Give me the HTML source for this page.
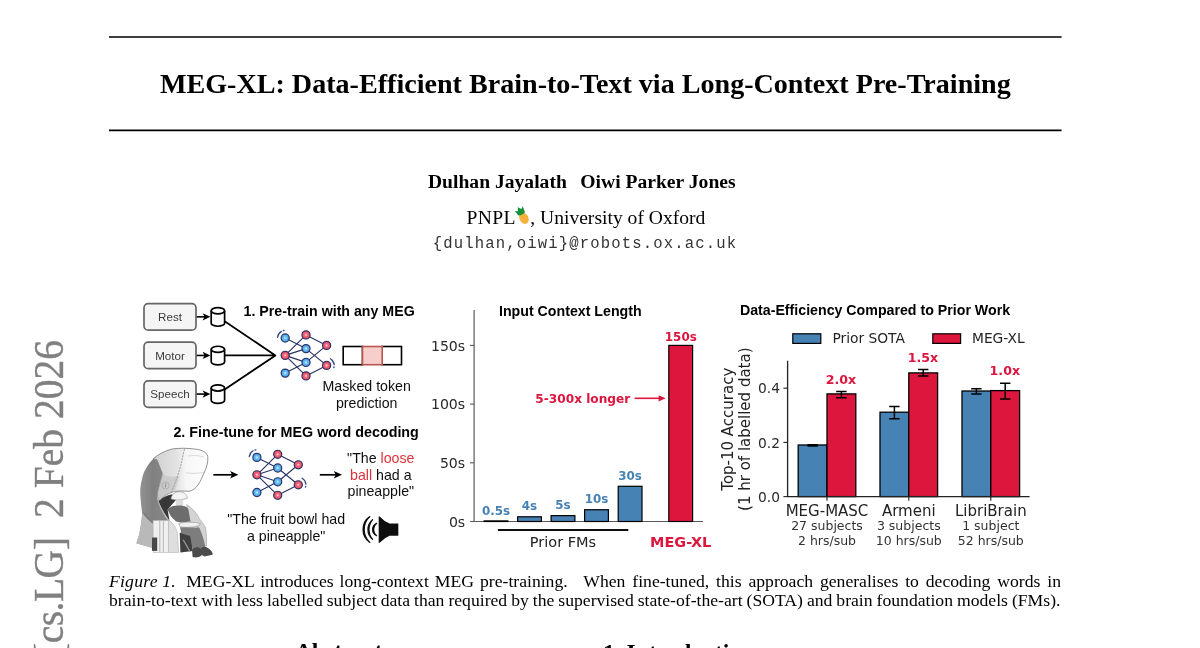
<!DOCTYPE html>
<html lang="en">
<head>
<meta charset="utf-8">
<title>MEG-XL: Data-Efficient Brain-to-Text via Long-Context Pre-Training</title>
<style>
html,body{margin:0;padding:0;background:#fff;}
body{width:1200px;height:648px;overflow:hidden;position:relative;font-family:"Liberation Serif",serif;color:#000;}
.abs{position:absolute;white-space:nowrap;}
#title{left:109.4px;width:952px;text-align:center;top:67.5px;font:bold 28.1px/32px "Liberation Serif",serif;}
#authors{left:105.8px;width:952px;text-align:center;top:169.7px;font:bold 19.6px/24px "Liberation Serif",serif;}
.affil{top:206.3px;font:19.6px/24px "Liberation Serif",serif;}
#email{left:109px;width:952px;text-align:center;top:233.5px;font:15.6px/20px "Liberation Mono",monospace;letter-spacing:1.14px;color:#333;}
.capl{font:17.65px/20px "Liberation Serif",serif;}
.capj{white-space:normal;text-align:justify;text-align-last:justify;}
.sec{font:bold 23.5px/28px "Liberation Serif",serif;}
#stamp{left:0;top:0;width:400px;text-align:right;font:39.55px/40px "Liberation Serif",serif;color:#808080;-webkit-text-stroke:0.35px #808080;transform-origin:0 0;}
#fig{position:absolute;left:0;top:0;}
#fig text{font-family:"Liberation Sans",sans-serif;}
#fig .dv{font-family:"DejaVu Sans",sans-serif;}
</style>
</head>
<body>
<div id="title" class="abs">MEG-XL: Data-Efficient Brain-to-Text via Long-Context Pre-Training</div>
<div id="authors" class="abs">Dulhan Jayalath<span style="display:inline-block;width:13.5px"></span>Oiwi Parker Jones</div>
<div class="abs affil" style="left:466.4px;letter-spacing:0.4px">PNPL</div>
<div class="abs affil" style="left:530.2px">, University of Oxford</div>
<div id="email" class="abs">{dulhan,oiwi}@robots.ox.ac.uk</div>

<!--FIG-->
<svg id="fig" width="1200" height="648" viewBox="0 0 1200 648">
<defs>
<radialGradient id="gb" cx="50%" cy="50%" r="55%"><stop offset="0" stop-color="#d9f0ff"/><stop offset="0.35" stop-color="#6bbdf5"/><stop offset="1" stop-color="#3f9fe8"/></radialGradient>
<radialGradient id="gr" cx="50%" cy="50%" r="55%"><stop offset="0" stop-color="#ffe0e4"/><stop offset="0.35" stop-color="#f4677a"/><stop offset="1" stop-color="#e8405a"/></radialGradient>
<filter id="soft" x="0" y="0" width="100%" height="100%" filterUnits="userSpaceOnUse"><feGaussianBlur stdDeviation="0.38"/></filter>
<filter id="bl" x="-10%" y="-10%" width="120%" height="120%"><feGaussianBlur stdDeviation="0.6"/></filter>
<linearGradient id="dome" x1="0" y1="0" x2="1" y2="0"><stop offset="0" stop-color="#cfcfcf"/><stop offset="0.45" stop-color="#e4e4e4"/><stop offset="0.6" stop-color="#f6f6f6"/><stop offset="1" stop-color="#fdfdfd"/></linearGradient>
<linearGradient id="back" x1="0" y1="0" x2="1" y2="0"><stop offset="0" stop-color="#969696"/><stop offset="0.5" stop-color="#808080"/><stop offset="1" stop-color="#898989"/></linearGradient>
</defs>
<path d="M109 37H1061.6M109 130.3H1061.6" stroke="#000" stroke-width="1.7" fill="none"/>
<g filter="url(#soft)">
<rect x="144" y="303.6" width="52" height="26.5" rx="4.2" fill="#f5f5f5" stroke="#666" stroke-width="1.7"/>
<text x="170" y="321.0" font-size="11.6" fill="#3a3a3a" text-anchor="middle">Rest</text>
<path d="M196.7 316.85H205" stroke="#000" stroke-width="1.6" fill="none"/>
<path d="M210.4 316.85L202.6 313.25L204.6 316.85L202.6 320.45000000000005Z" fill="#000"/>
<path d="M211.2 310.75000000000006A6.700000000000003 3.1 0 0 1 224.6 310.75000000000006V323.15A6.700000000000003 3.1 0 0 1 211.2 323.15Z" fill="#fff" stroke="#000" stroke-width="1.7"/>
<path d="M211.2 310.75000000000006A6.700000000000003 3.1 0 0 0 224.6 310.75000000000006" fill="none" stroke="#000" stroke-width="1.7"/>
<rect x="144" y="342.2" width="52" height="26.5" rx="4.2" fill="#f5f5f5" stroke="#666" stroke-width="1.7"/>
<text x="170" y="359.6" font-size="11.6" fill="#3a3a3a" text-anchor="middle">Motor</text>
<path d="M196.7 355.45H205" stroke="#000" stroke-width="1.6" fill="none"/>
<path d="M210.4 355.45L202.6 351.84999999999997L204.6 355.45L202.6 359.05Z" fill="#000"/>
<path d="M211.2 349.35A6.700000000000003 3.1 0 0 1 224.6 349.35V361.74999999999994A6.700000000000003 3.1 0 0 1 211.2 361.74999999999994Z" fill="#fff" stroke="#000" stroke-width="1.7"/>
<path d="M211.2 349.35A6.700000000000003 3.1 0 0 0 224.6 349.35" fill="none" stroke="#000" stroke-width="1.7"/>
<rect x="144" y="380.8" width="52" height="26.5" rx="4.2" fill="#f5f5f5" stroke="#666" stroke-width="1.7"/>
<text x="170" y="398.2" font-size="11.6" fill="#3a3a3a" text-anchor="middle">Speech</text>
<path d="M196.7 394.05H205" stroke="#000" stroke-width="1.6" fill="none"/>
<path d="M210.4 394.05L202.6 390.45L204.6 394.05L202.6 397.65000000000003Z" fill="#000"/>
<path d="M211.2 387.95000000000005A6.700000000000003 3.1 0 0 1 224.6 387.95000000000005V400.34999999999997A6.700000000000003 3.1 0 0 1 211.2 400.34999999999997Z" fill="#fff" stroke="#000" stroke-width="1.7"/>
<path d="M211.2 387.95000000000005A6.700000000000003 3.1 0 0 0 224.6 387.95000000000005" fill="none" stroke="#000" stroke-width="1.7"/>
<path d="M225 321.6L275.4 355.4M225 355.4H275.4M225 389.2L275.4 355.4" stroke="#000" stroke-width="1.8" fill="none" stroke-linecap="round"/>
<path d="M285.2 338.0L306.0 348.6M285.2 355.4L306.0 334.9M285.2 355.4L306.0 348.6M285.2 355.4L306.0 362.4M285.2 355.4L306.0 375.9M285.2 373.1L306.0 362.4M306.0 334.9L326.6 345.4M306.0 348.6L326.6 365.4M306.0 362.4L326.6 345.4M306.0 375.9L326.6 365.4" stroke="#2b3467" stroke-width="1.15" fill="none"/>
<circle cx="285.2" cy="338.0" r="4.05" fill="url(#gb)" stroke="#2b3467" stroke-width="1.2"/>
<circle cx="285.2" cy="355.4" r="4.05" fill="url(#gr)" stroke="#2b3467" stroke-width="1.2"/>
<circle cx="285.2" cy="373.1" r="4.05" fill="url(#gb)" stroke="#2b3467" stroke-width="1.2"/>
<circle cx="306.0" cy="334.9" r="4.05" fill="url(#gr)" stroke="#2b3467" stroke-width="1.2"/>
<circle cx="306.0" cy="348.6" r="4.05" fill="url(#gb)" stroke="#2b3467" stroke-width="1.2"/>
<circle cx="306.0" cy="362.4" r="4.05" fill="url(#gb)" stroke="#2b3467" stroke-width="1.2"/>
<circle cx="306.0" cy="375.9" r="4.05" fill="url(#gr)" stroke="#2b3467" stroke-width="1.2"/>
<circle cx="326.6" cy="345.4" r="4.05" fill="url(#gr)" stroke="#2b3467" stroke-width="1.2"/>
<circle cx="326.6" cy="365.4" r="4.05" fill="url(#gr)" stroke="#2b3467" stroke-width="1.2"/>
<path d="M277.6 337.3A7.6 7.6 0 0 1 281.4 331.4M283.4 330.6A7.6 7.6 0 0 1 284.1 330.5" stroke="#3a4684" stroke-width="1.3" fill="none" stroke-linecap="round"/>
<path d="M330.4 358.8A7.6 7.6 0 0 1 334.2 364.7M334.0 367.0A7.6 7.6 0 0 1 333.8 367.7" stroke="#3a4684" stroke-width="1.3" fill="none" stroke-linecap="round"/>
<path d="M256.9 457.4L277.7 468.0M256.9 474.8L277.7 454.3M256.9 474.8L277.7 468.0M256.9 474.8L277.7 481.8M256.9 474.8L277.7 495.3M256.9 492.5L277.7 481.8M277.7 454.3L298.3 464.8M277.7 468.0L298.3 484.8M277.7 481.8L298.3 464.8M277.7 495.3L298.3 484.8" stroke="#2b3467" stroke-width="1.15" fill="none"/>
<circle cx="256.9" cy="457.4" r="4.05" fill="url(#gb)" stroke="#2b3467" stroke-width="1.2"/>
<circle cx="256.9" cy="474.8" r="4.05" fill="url(#gr)" stroke="#2b3467" stroke-width="1.2"/>
<circle cx="256.9" cy="492.5" r="4.05" fill="url(#gb)" stroke="#2b3467" stroke-width="1.2"/>
<circle cx="277.7" cy="454.3" r="4.05" fill="url(#gr)" stroke="#2b3467" stroke-width="1.2"/>
<circle cx="277.7" cy="468.0" r="4.05" fill="url(#gb)" stroke="#2b3467" stroke-width="1.2"/>
<circle cx="277.7" cy="481.8" r="4.05" fill="url(#gb)" stroke="#2b3467" stroke-width="1.2"/>
<circle cx="277.7" cy="495.3" r="4.05" fill="url(#gr)" stroke="#2b3467" stroke-width="1.2"/>
<circle cx="298.3" cy="464.8" r="4.05" fill="url(#gr)" stroke="#2b3467" stroke-width="1.2"/>
<circle cx="298.3" cy="484.8" r="4.05" fill="url(#gr)" stroke="#2b3467" stroke-width="1.2"/>
<path d="M249.3 456.7A7.6 7.6 0 0 1 253.1 450.8M255.1 450.0A7.6 7.6 0 0 1 255.8 449.9" stroke="#3a4684" stroke-width="1.3" fill="none" stroke-linecap="round"/>
<path d="M302.1 478.2A7.6 7.6 0 0 1 305.9 484.1M305.7 486.4A7.6 7.6 0 0 1 305.5 487.1" stroke="#3a4684" stroke-width="1.3" fill="none" stroke-linecap="round"/>
<rect x="343.2" y="346.5" width="19.3" height="18.2" fill="#fff" stroke="#000" stroke-width="1.6"/>
<rect x="382.2" y="346.5" width="19.3" height="18.2" fill="#fff" stroke="#000" stroke-width="1.6"/>
<rect x="362.5" y="346.5" width="19.7" height="18.2" fill="#f8cecc" stroke="#b85450" stroke-width="1.6"/>
<text x="243.6" y="316" font-size="14.2" font-weight="bold">1. Pre-train with any MEG</text>
<text x="366.7" y="390.8" font-size="14.2" text-anchor="middle" fill="#111">Masked token</text>
<text x="366.7" y="407.8" font-size="14.2" text-anchor="middle" fill="#111">prediction</text>
<text x="173.4" y="436.5" font-size="14.3" font-weight="bold">2. Fine-tune for MEG word decoding</text>
<text x="380.8" y="462.6" font-size="14.2" text-anchor="middle" fill="#111">"The <tspan fill="#e0323c">loose</tspan></text>
<text x="380.8" y="479.7" font-size="14.2" text-anchor="middle" fill="#111"><tspan fill="#e0323c">ball</tspan> had a</text>
<text x="380.8" y="495.8" font-size="14.2" text-anchor="middle" fill="#111">pineapple"</text>
<text x="286.2" y="523.8" font-size="14.2" text-anchor="middle" fill="#111">"The fruit bowl had</text>
<text x="286.2" y="540.9" font-size="14.2" text-anchor="middle" fill="#111">a pineapple"</text>
<path d="M213.3 474.8H234.3" stroke="#000" stroke-width="1.7" fill="none"/>
<path d="M238.3 474.8L230.10000000000002 471.1L232.10000000000002 474.8L230.10000000000002 478.5Z" fill="#000"/>
<path d="M319.8 474.8H338" stroke="#000" stroke-width="1.7" fill="none"/>
<path d="M342 474.8L333.8 471.1L335.8 474.8L333.8 478.5Z" fill="#000"/>
<path d="M378.7 516.6Q378.7 515.8 379.6 516.4Q384.5 521.6 389.6 523.5H398.3V535.7H389.6Q384.5 537.6 379.6 542.8Q378.7 543.4 378.7 542.6Z" fill="#111"/>
<path d="M369.8 516.6A15.64 15.64 0 0 0 369.8 542.4A17.66 17.66 0 0 1 369.8 516.6Z" fill="#111" stroke="#111" stroke-width="1.2" stroke-linejoin="round"/>
<path d="M372.6 519.6A12.78 12.78 0 0 0 372.6 539.4A15.41 15.41 0 0 1 372.6 519.6Z" fill="#111" stroke="#111" stroke-width="1.2" stroke-linejoin="round"/>
<path d="M376.6 523.3A6.81 6.81 0 0 0 376.6 535.7A7.91 7.91 0 0 1 376.6 523.3Z" fill="#111" stroke="#111" stroke-width="1.2" stroke-linejoin="round"/>
<g filter="url(#bl)">
<path d="M153.1 458.9C148.5 463.5 144.5 470 143 475C141.3 481 140.2 487 140.2 492C140.4 500 141.6 508 142.1 513.1C142 518 141 526 139.3 534L136.4 543.2L152 547.8L153.2 520.7L169.3 520.7C166 516.5 161.5 510 157.8 500.4C157.3 497 157.4 495 157.8 493.1C158.5 489 159 486 159.6 483.9C160.5 480 161.6 477 162.4 473.7L156.9 459.8Z" fill="url(#back)"/>
<path d="M142.1 513.1C145 517 149 521 153.2 523.5L152 547.8L136.4 543.2L139.3 534C141 526 142 518 142.1 513.1Z" fill="#b9b9b9"/>
<path d="M143.5 512.5L152.6 523.4" stroke="#6a6a6a" stroke-width="0.8" fill="none"/>
<path d="M186.7 504.6C192 508 197 513 199.4 518.9C202 522 204.4 525 205.2 527C206.6 533 206.8 540 206.4 546L200.6 546.4L199.5 528.5L190 522Z" fill="#d4d4d4" stroke="#9c9c9c" stroke-width="0.6"/>
<path d="M158.2 500.6C162 497.6 167 495.4 172 494.2L176.4 499.4L172 504.6L167.6 509.7L169.6 521C166 516 161.5 509.5 158.2 500.6Z" fill="#383838"/>
<path d="M153.1 458.9C158 454.5 165 450.5 172.6 448.9C179 448 188 448 196 449.2C202 450 206.5 452 207.8 456.5C208.3 462 206.5 468 204 473C202 478 200 482 198 485C195.5 488.5 192.5 490.8 189 491.3C184 491 179 490.8 174.4 491.5C168 493 163 496.5 159.6 500.5C157.4 497.5 157.2 494.5 157.8 491.3C159.5 485 161.5 479 162.4 473.7L156.9 459.8Z" fill="url(#dome)" stroke="#777" stroke-width="0.8"/>
<path d="M162.4 473.7C161.5 479 159.5 485 157.8 491.3C157.2 494.5 157.4 497.5 159.6 500.5C163 496.5 168 493 174.4 491.5C176 487 178 482 179.5 476C172 477.5 166 476.5 162.4 473.7Z" fill="#bdbdbd" opacity="0.55"/>
<path d="M184.5 449C182.5 456 182 462 180 468C178 476 174.5 484 171.5 492" stroke="#a4a4a4" stroke-width="1" fill="none" stroke-dasharray="2.2 0.9"/>
<path d="M186 472.6C192 474 198 473.4 203.6 472.4M188 456C193 455 199 455.4 204 457" stroke="#cdcdcd" stroke-width="0.7" fill="none"/>
<circle cx="165.6" cy="485.6" r="3.5" fill="none" stroke="#a8a8a8" stroke-width="0.8"/>
<path d="M165.6 483.6V487.4" stroke="#888" stroke-width="0.9"/>
<path d="M157.8 500.4C161 509 165.5 516 169.3 520.7C173 523 176.4 527.5 177.4 533L178.6 552.5H168.4V520.7C164.5 516 160.5 509.5 157.8 500.4Z" fill="#dedede" stroke="#a9a9a9" stroke-width="0.5"/>
<rect x="153.2" y="520.7" width="15.2" height="31.8" fill="#efefef" stroke="#b5b5b5" stroke-width="0.6"/>
<path d="M159.8 521V552M163.4 521V552" stroke="#bcbcbc" stroke-width="1.1"/>
<rect x="152" y="537.5" width="5.2" height="13.4" fill="#474747"/>
<path d="M179.7 532.8H191.3L192.5 551L180.4 552.5Z" fill="#3f3f3f"/>
<path d="M183.2 539.7L190.2 552" stroke="#9a9a9a" stroke-width="1.3"/>
<path d="M171 499C171.2 494.6 175.4 491.7 179.4 491.7C183.6 491.7 187.2 494.4 187.3 498.2C182 500.2 176 500.4 171 499Z" fill="#f4f4f4" stroke="#8c8c8c" stroke-width="0.6"/>
<path d="M175.7 499.4C178 500 181 500 183.2 499.2V504.4C181 506.6 177.6 506.4 175.7 504.6Z" fill="#dcdcdc"/>
<path d="M167.6 509.7C169.5 506.6 174 505.2 179.4 505.4C184.4 505.6 187.2 506.6 188.4 509.4L190.4 521.6L181 522.6L176 521.4L171 516.6Z" fill="#6d6d6d"/>
<path d="M178.6 523.4C185 521.6 195 521.8 200.6 523.6C199.8 526.6 190 528.2 180 526.8Z" fill="#f0f0f0" stroke="#8e8e8e" stroke-width="0.6"/>
<path d="M180 527.2L199.2 527.4C202 533 204 540 205.4 547L198.4 549.6L192.4 549L190.2 536L181.4 533.4Z" fill="#7d7d7d"/>
<path d="M192 549.6C194.6 546.6 198.6 546.6 200.8 548.4C203 546 206 546.2 209 548.8C211.6 550.6 213 553 212.6 554.8L204.4 556.4L202 555C199 557.6 195.4 558 192.6 557Z" fill="#4c4c4c"/>
</g>
<path d="M474.1 310V521.5H703" stroke="#5a5a5a" stroke-width="1.2" fill="none"/>
<path d="M470 521.5H474.1" stroke="#5a5a5a" stroke-width="1.1"/>
<text class="dv" x="465.2" y="526.8" font-size="14.1" text-anchor="end" fill="#2a2a2a">0s</text>
<path d="M470 462.8H474.1" stroke="#5a5a5a" stroke-width="1.1"/>
<text class="dv" x="465.2" y="468.1" font-size="14.1" text-anchor="end" fill="#2a2a2a">50s</text>
<path d="M470 404.1H474.1" stroke="#5a5a5a" stroke-width="1.1"/>
<text class="dv" x="465.2" y="409.4" font-size="14.1" text-anchor="end" fill="#2a2a2a">100s</text>
<path d="M470 345.4H474.1" stroke="#5a5a5a" stroke-width="1.1"/>
<text class="dv" x="465.2" y="350.7" font-size="14.1" text-anchor="end" fill="#2a2a2a">150s</text>
<text x="570.3" y="316" font-size="14.2" font-weight="bold" text-anchor="middle">Input Context Length</text>
<rect x="484.1" y="520.91" width="23.8" height="0.59" fill="#4682b4" stroke="#000" stroke-width="1.2"/>
<text class="dv" x="496.0" y="514.5" font-size="11.9" font-weight="bold" text-anchor="middle" fill="#4682b4">0.5s</text>
<rect x="517.6" y="516.80" width="23.8" height="4.70" fill="#4682b4" stroke="#000" stroke-width="1.2"/>
<text class="dv" x="529.5" y="510.4" font-size="11.9" font-weight="bold" text-anchor="middle" fill="#4682b4">4s</text>
<rect x="551.1" y="515.63" width="23.8" height="5.87" fill="#4682b4" stroke="#000" stroke-width="1.2"/>
<text class="dv" x="563.0" y="509.2" font-size="11.9" font-weight="bold" text-anchor="middle" fill="#4682b4">5s</text>
<rect x="584.6" y="509.76" width="23.8" height="11.74" fill="#4682b4" stroke="#000" stroke-width="1.2"/>
<text class="dv" x="596.5" y="503.4" font-size="11.9" font-weight="bold" text-anchor="middle" fill="#4682b4">10s</text>
<rect x="618.2" y="486.28" width="23.8" height="35.22" fill="#4682b4" stroke="#000" stroke-width="1.2"/>
<text class="dv" x="630.1" y="479.9" font-size="11.9" font-weight="bold" text-anchor="middle" fill="#4682b4">30s</text>
<rect x="668.8" y="345.40" width="23.8" height="176.10" fill="#dc143c" stroke="#000" stroke-width="1.2"/>
<text class="dv" x="680.8" y="340.6" font-size="11.9" font-weight="bold" text-anchor="middle" fill="#dc143c">150s</text>
<text class="dv" x="535.3" y="402.5" font-size="12.15" font-weight="bold" fill="#dc143c">5-300x longer</text>
<path d="M634.6 398.3H661" stroke="#dc143c" stroke-width="1.6" fill="none"/>
<path d="M665.6 398.3L658.6 395.2V401.4Z" fill="#dc143c"/>
<path d="M497.9 530.1H628.3" stroke="#111" stroke-width="2"/>
<text class="dv" x="563" y="547.1" font-size="14.5" text-anchor="middle" fill="#222">Prior FMs</text>
<text class="dv" x="680.7" y="547" font-size="14.45" font-weight="bold" text-anchor="middle" fill="#dc143c">MEG-XL</text>
<text x="875" y="315.4" font-size="14.2" font-weight="bold" text-anchor="middle">Data-Efficiency Compared to Prior Work</text>
<rect x="792.8" y="333.8" width="28" height="9.6" fill="#4682b4" stroke="#000" stroke-width="1.2"/>
<text class="dv" x="832.4" y="342.9" font-size="13.8" fill="#222">Prior SOTA</text>
<rect x="932.8" y="333.8" width="27.8" height="9.6" fill="#dc143c" stroke="#000" stroke-width="1.2"/>
<text class="dv" x="972" y="342.9" font-size="13.8" fill="#222">MEG-XL</text>
<rect x="798.2" y="445.0" width="28.8" height="51.6" fill="#4682b4" stroke="#000" stroke-width="1.3"/>
<path d="M812.6 444.8V446.0M807.4 444.8H817.8M807.4 446.0H817.8" stroke="#000" stroke-width="1.5" fill="none"/>
<rect x="827.0" y="393.9" width="28.8" height="102.7" fill="#dc143c" stroke="#000" stroke-width="1.3"/>
<path d="M841.4 391.6V397.8M836.2 391.6H846.6M836.2 397.8H846.6" stroke="#000" stroke-width="1.5" fill="none"/>
<rect x="880.0" y="412.2" width="28.8" height="84.4" fill="#4682b4" stroke="#000" stroke-width="1.3"/>
<path d="M894.4 406.6V418.8M889.2 406.6H899.6M889.2 418.8H899.6" stroke="#000" stroke-width="1.5" fill="none"/>
<rect x="908.8" y="372.9" width="28.8" height="123.7" fill="#dc143c" stroke="#000" stroke-width="1.3"/>
<path d="M923.2 369.6V375.9M918.0 369.6H928.4M918.0 375.9H928.4" stroke="#000" stroke-width="1.5" fill="none"/>
<rect x="962.0" y="391.0" width="28.8" height="105.6" fill="#4682b4" stroke="#000" stroke-width="1.3"/>
<path d="M976.4 388.8V394.0M971.2 388.8H981.6M971.2 394.0H981.6" stroke="#000" stroke-width="1.5" fill="none"/>
<rect x="990.8" y="390.6" width="28.8" height="106.0" fill="#dc143c" stroke="#000" stroke-width="1.3"/>
<path d="M1005.2 383.3V399.0M1000.0 383.3H1010.4M1000.0 399.0H1010.4" stroke="#000" stroke-width="1.5" fill="none"/>
<path d="M787.6 360.7V496.6H1029.6" stroke="#222" stroke-width="1.3" fill="none"/>
<path d="M783.4 496.6H787.6" stroke="#222" stroke-width="1.1"/>
<text class="dv" x="780" y="501.8" font-size="13.8" text-anchor="end" fill="#2a2a2a">0.0</text>
<path d="M783.4 442.4H787.6" stroke="#222" stroke-width="1.1"/>
<text class="dv" x="780" y="447.6" font-size="13.8" text-anchor="end" fill="#2a2a2a">0.2</text>
<path d="M783.4 388.2H787.6" stroke="#222" stroke-width="1.1"/>
<text class="dv" x="780" y="393.4" font-size="13.8" text-anchor="end" fill="#2a2a2a">0.4</text>
<path d="M827 496.6V500.8" stroke="#222" stroke-width="1.1"/>
<text class="dv" x="827" y="516.1" font-size="15" text-anchor="middle" fill="#222">MEG-MASC</text>
<text class="dv" x="827" y="530.2" font-size="12.5" text-anchor="middle" fill="#333">27 subjects</text>
<text class="dv" x="827" y="544.8" font-size="12.5" text-anchor="middle" fill="#333">2 hrs/sub</text>
<path d="M908.8 496.6V500.8" stroke="#222" stroke-width="1.1"/>
<text class="dv" x="908.8" y="516.1" font-size="15" text-anchor="middle" fill="#222">Armeni</text>
<text class="dv" x="908.8" y="530.2" font-size="12.5" text-anchor="middle" fill="#333">3 subjects</text>
<text class="dv" x="908.8" y="544.8" font-size="12.5" text-anchor="middle" fill="#333">10 hrs/sub</text>
<path d="M990.8 496.6V500.8" stroke="#222" stroke-width="1.1"/>
<text class="dv" x="990.8" y="516.1" font-size="15" text-anchor="middle" fill="#222">LibriBrain</text>
<text class="dv" x="990.8" y="530.2" font-size="12.5" text-anchor="middle" fill="#333">1 subject</text>
<text class="dv" x="990.8" y="544.8" font-size="12.5" text-anchor="middle" fill="#333">52 hrs/sub</text>
<text class="dv" x="841" y="383.7" font-size="12.6" font-weight="bold" text-anchor="middle" fill="#dc143c">2.0x</text>
<text class="dv" x="923" y="361.6" font-size="12.6" font-weight="bold" text-anchor="middle" fill="#dc143c">1.5x</text>
<text class="dv" x="1004.8" y="375.2" font-size="12.6" font-weight="bold" text-anchor="middle" fill="#dc143c">1.0x</text>
<text class="dv" transform="translate(733,429.2) rotate(-90)" font-size="15" text-anchor="middle" fill="#222">Top-10 Accuracy</text>
<text class="dv" transform="translate(749.6,429.2) rotate(-90)" font-size="15" text-anchor="middle" fill="#222">(1 hr of labelled data)</text>
</g>
<g transform="translate(524,218.3) rotate(-27)"><ellipse cx="0" cy="0" rx="4.5" ry="5.9" fill="#f4b23c"/><path d="M-3.6 -5L-5 -10.6L-2.4 -9L-0.4 -12.6L1.8 -9.4L4.4 -11.4L3.6 -5C2 -4 -2 -4 -3.6 -5Z" fill="#17913a"/></g>
</svg>
<!--/FIG-->

<div class="abs capl" style="left:109px;top:571px;letter-spacing:0.22px"><i>Figure 1.</i></div>
<div class="abs capl capj" style="left:186.2px;top:571px;width:381.5px">MEG-XL introduces long-context MEG pre-training.</div>
<div class="abs capl capj" style="left:583.3px;top:571px;width:477.7px">When fine-tuned, this approach generalises to decoding words in</div>
<div class="abs" style="left:109px;top:590.2px;font:17.65px/20px 'Liberation Serif',serif;word-spacing:-0.43px">brain-to-text with less labelled subject data than required by the supervised state-of-the-art (SOTA) and brain foundation models (FMs).</div>

<div class="abs sec" style="left:295px;top:637.4px">Abstract</div>
<div class="abs sec" style="left:603px;top:638.4px">1. Introduction</div>

<div id="stamp" class="abs" style="transform:translate(28.1px,739.9px) rotate(-90deg) scale(1,1.045)"><span style="letter-spacing:-0.5px">[cs.LG]</span>&nbsp; 2 Feb 2026</div>
</body>
</html>
